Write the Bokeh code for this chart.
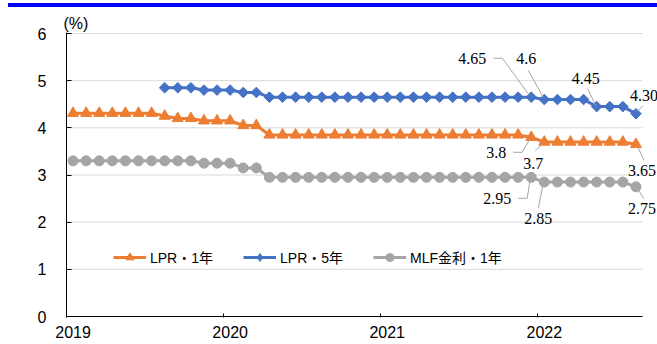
import math
from bokeh.plotting import figure
from bokeh.models import ColumnDataSource, FixedTicker, LabelSet, Div, Range1d, Legend, LegendItem
from bokeh.layouts import column
from bokeh.embed import file_html
from bokeh.resources import INLINE

NaN = float("nan")

# ---------------- data ----------------
months = [f"{y}-{m:02d}" for y in range(2019, 2023) for m in range(1, 13)][:44]

lpr_1y = [4.31, 4.31, 4.31, 4.31, 4.31, 4.31, 4.31, 4.25, 4.20, 4.20, 4.15, 4.15,
          4.15, 4.05, 4.05, 3.85, 3.85, 3.85, 3.85, 3.85, 3.85, 3.85, 3.85, 3.85,
          3.85, 3.85, 3.85, 3.85, 3.85, 3.85, 3.85, 3.85, 3.85, 3.85, 3.85, 3.80,
          3.70, 3.70, 3.70, 3.70, 3.70, 3.70, 3.70, 3.65]

lpr_5y = [NaN, NaN, NaN, NaN, NaN, NaN, NaN, 4.85, 4.85, 4.85, 4.80, 4.80,
          4.80, 4.75, 4.75, 4.65, 4.65, 4.65, 4.65, 4.65, 4.65, 4.65, 4.65, 4.65,
          4.65, 4.65, 4.65, 4.65, 4.65, 4.65, 4.65, 4.65, 4.65, 4.65, 4.65, 4.65,
          4.60, 4.60, 4.60, 4.60, 4.45, 4.45, 4.45, 4.30]

mlf_1y = [3.30, 3.30, 3.30, 3.30, 3.30, 3.30, 3.30, 3.30, 3.30, 3.30, 3.25, 3.25,
          3.25, 3.15, 3.15, 2.95, 2.95, 2.95, 2.95, 2.95, 2.95, 2.95, 2.95, 2.95,
          2.95, 2.95, 2.95, 2.95, 2.95, 2.95, 2.95, 2.95, 2.95, 2.95, 2.95, 2.95,
          2.85, 2.85, 2.85, 2.85, 2.85, 2.85, 2.85, 2.75]

year_labels = ["2019", "2020", "2021", "2022"]
y_ticks = [0, 1, 2, 3, 4, 5, 6]
unit_label = "(%)"

series_names = ["LPR・1年", "LPR・5年", "MLF金利・1年"]

# annotated points: (series, month index, label text)
ann_series = ["lpr5", "lpr5", "lpr5", "lpr5", "lpr1", "lpr1", "lpr1", "mlf", "mlf", "mlf"]
ann_index = [35, 36, 40, 43, 35, 36, 43, 35, 36, 43]
ann_text = ["4.65", "4.6", "4.45", "4.30", "3.8", "3.7", "3.65", "2.95", "2.85", "2.75"]

# ---------------- styling / layout ----------------
ORANGE = "#ED7D31"
BLUE = "#4472C4"
GRAY = "#A5A5A5"
FONT = "Liberation Sans, Noto Sans CJK JP"

W, H = 657, 336
ML, MR, MT, MB = 66, 0, 24, 27
XMAX, YMAX = 44, 6
PXM = 576 / XMAX      # px per month (plot area 576 px wide)
PXU = 283 / YMAX      # px per unit (plot area 283 px tall)
X_END = XMAX + 15 / PXM          # extra room on the right for value labels
Y_START, Y_END = -1 / PXU, YMAX + 1 / PXU

# label placement (pixel offsets from point, y down positive)
lab_dx = [-59, -18, -11, 8, -35, -11, 6, -34, -6, 6]
lab_dy = [-39, -41, -28, -18, 15, 22, 26, 21, 36, 22]
leaders = [
    [(-38, -39), (-29, -39), (-2, -2)],
    [(-16, -29), (-1, -2)],
    [(-9, -18), (-1, -1)],
    [(7, -8), (1, -2)],
    [(-18, 15), (-9, 15), (-1, 1)],
    [(-9, 9), (-1, 1)],
    [(1, 1), (8, 16)],
    [(-13, 21), (-4, 21), (-1, 1)],
    [(-6, 26), (-1, 1)],
    [(1, 1), (8, 12)],
]

x = [i + 0.5 for i in range(len(months))]
vals = {"lpr1": lpr_1y, "lpr5": lpr_5y, "mlf": mlf_1y}

p = figure(width=W, height=H, output_backend="svg", toolbar_location=None,
           x_range=Range1d(0, X_END), y_range=Range1d(Y_START, Y_END),
           min_border_left=ML, min_border_right=MR, min_border_top=MT, min_border_bottom=MB,
           title=unit_label)
p.outline_line_color = None
p.background_fill_color = "white"
p.border_fill_color = "white"

p.title.text_font = FONT
p.title.text_font_size = "16px"
p.title.text_font_style = "normal"
p.title.text_color = "black"
p.title.align = "left"
p.title.offset = -3
p.title.standoff = 1

# grid (drawn over the plot width only)
p.xgrid.visible = False
p.ygrid.visible = False
grid_ticks = [t for t in y_ticks if t > 0]
p.segment(x0=[0] * len(grid_ticks), x1=[XMAX] * len(grid_ticks), y0=grid_ticks, y1=grid_ticks,
          line_color="#D9D9D9", line_width=1)
# x axis line
p.segment(x0=[0], x1=[XMAX], y0=[0], y1=[0], line_color="black", line_width=1)

# axes
xa = p.xaxis[0]
xa.ticker = FixedTicker(ticks=[12 * k + 0.5 for k in range(len(year_labels))],
                        minor_ticks=[12 * k for k in range(len(year_labels))])
xa.major_label_overrides = {12 * k + 0.5: s for k, s in enumerate(year_labels)}
xa.major_tick_in = 0
xa.major_tick_out = 0
xa.minor_tick_in = 4
xa.minor_tick_out = 0
xa.minor_tick_line_color = "black"
xa.axis_line_color = None
xa.major_label_text_font = FONT
xa.major_label_text_font_size = "16px"
xa.major_label_text_color = "black"
xa.major_label_standoff = 8

ya = p.yaxis[0]
ya.ticker = FixedTicker(ticks=y_ticks)
ya.major_tick_in = 5
ya.major_tick_out = 0
ya.minor_tick_line_color = None
ya.axis_line_color = "black"
ya.major_tick_line_color = "black"
ya.major_label_text_font = FONT
ya.major_label_text_font_size = "16px"
ya.major_label_text_color = "black"
ya.major_label_standoff = 20

# series
src = ColumnDataSource(dict(x=x, lpr1=lpr_1y, lpr5=lpr_5y, mlf=mlf_1y))
# off-screen single point: only used to draw the smaller legend markers
legend_src = ColumnDataSource(dict(x=[-100], y=[-100]))
colors = [ORANGE, BLUE, GRAY]
markers = ["triangle", "square", "circle"]
angles = [0, math.pi / 4, 0]
sizes = [11, 7.5, 10]
legend_markers = ["triangle", "diamond", "circle"]
legend_sizes = [9, 10, 8]
items = []
for col, c, m, a, s, lm, ls, name in zip(["lpr1", "lpr5", "mlf"], colors, markers, angles,
                                          sizes, legend_markers, legend_sizes, series_names):
    lr = p.line("x", col, source=src, color=c, line_width=3)
    p.scatter("x", col, source=src, marker=m, angle=a, size=s, color=c)
    dummy = p.scatter("x", "y", source=legend_src, marker=lm, size=ls, color=c)
    items.append(LegendItem(label=name, renderers=[lr, dummy]))

# leader lines and value labels
lx, ly, lxs, lys = [], [], [], []
for s, i, dx, dy, ld in zip(ann_series, ann_index, lab_dx, lab_dy, leaders):
    px, py = x[i], vals[s][i]
    lx.append(px)
    ly.append(py)
    lxs.append([px + a / PXM for a, b in ld])
    lys.append([py - b / PXU for a, b in ld])
p.multi_line(lxs, lys, line_color="#A6A6A6", line_width=1)

lab_src = ColumnDataSource(dict(x=lx, y=ly, text=ann_text,
                                xo=lab_dx, yo=[-d for d in lab_dy]))
p.add_layout(LabelSet(x="x", y="y", text="text", source=lab_src, x_offset="xo", y_offset="yo",
                      text_align="center", text_baseline="middle", text_font=FONT,
                      text_font_size="16px", text_color="black"))

# legend
lg = Legend(items=items, orientation="horizontal", location=(47, 50),
            border_line_alpha=0, background_fill_alpha=0, padding=0, margin=0,
            spacing=30, glyph_width=33, glyph_height=20, label_height=20,
            label_standoff=4, label_text_font=FONT, label_text_font_size="14px",
            label_text_color="black")
p.add_layout(lg, "center")

bar = Div(text="", width=649, height=4, margin=(3, 0, 1, 8),
          styles={"background-color": "#0000FF"})

layout = column(bar, p, spacing=0)
open("out.html", "w").write(file_html(layout, INLINE))
